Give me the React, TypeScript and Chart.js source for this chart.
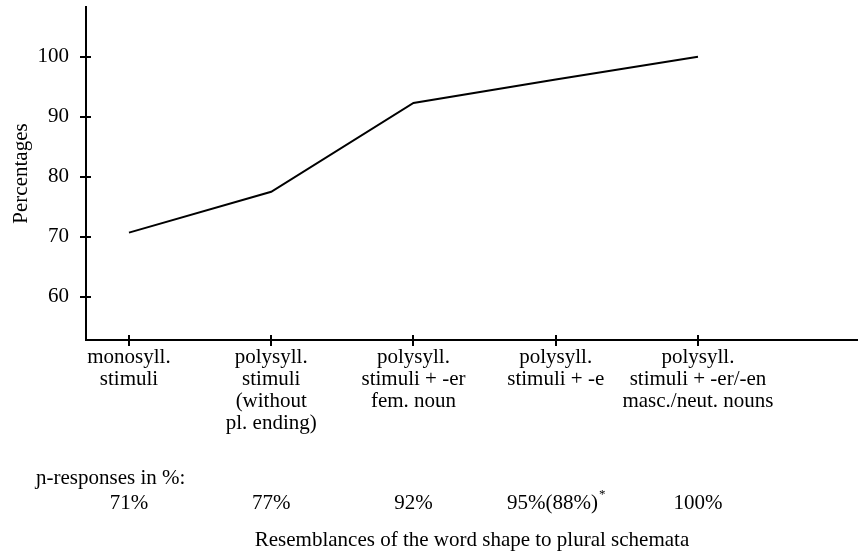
import React, { useEffect, useRef } from "react";
import { Chart, registerables } from "chart.js";

Chart.register(...registerables);

const CATEGORY_LABELS: string[][] = [
  ["monosyll.", "stimuli"],
  ["polysyll.", "stimuli", "(without", "pl. ending)"],
  ["polysyll.", "stimuli + -er", "fem. noun"],
  ["polysyll.", "stimuli + -e"],
  ["polysyll.", "stimuli + -er/-en", "masc./neut. nouns"],
];
const CATEGORY_POS = [1, 2, 3, 4, 5];
const PERCENT_VALUES = [70.7, 77.5, 92.3, 96.2, 100];
const RESPONSE_LABELS = ["71%", "77%", "92%", "95%(88%)", "100%"];
const RESPONSE_NOTES = ["", "", "", "*", ""];
const Y_TICKS = [60, 70, 80, 90, 100];
const Y_TITLE = "Percentages";
const X_TITLE = "Resemblances of the word shape to plural schemata";
const ROW_LABEL = "ɲ-responses in %:";

const FONT = "'Liberation Serif', 'Times New Roman', serif";

export default function App() {
  const ref = useRef<HTMLCanvasElement>(null);

  useEffect(() => {
    if (!ref.current) return;
    const extras = {
      id: "extras",
      afterDraw(chart: any) {
        const ctx = chart.ctx as CanvasRenderingContext2D;
        const xs = chart.scales.x;
        const ys = chart.scales.y;
        ctx.save();
        ctx.strokeStyle = "#000";
        ctx.lineWidth = 2;
        ctx.beginPath();
        CATEGORY_POS.forEach((v) => {
          const px = Math.round(xs.getPixelForValue(v));
          ctx.moveTo(px, ys.bottom);
          ctx.lineTo(px, ys.bottom - 5);
        });
        Y_TICKS.forEach((v) => {
          const py = Math.round(ys.getPixelForValue(v));
          ctx.moveTo(xs.left, py);
          ctx.lineTo(xs.left + 5, py);
        });
        ctx.stroke();

        ctx.fillStyle = "#000";
        ctx.textBaseline = "middle";
        ctx.textAlign = "left";
        ctx.font = `21px ${FONT}`;
        ctx.fillText(ROW_LABEL, 36, 478);
        RESPONSE_LABELS.forEach((t, i) => {
          const px = xs.getPixelForValue(CATEGORY_POS[i]);
          const note = RESPONSE_NOTES[i];
          ctx.font = `21px ${FONT}`;
          const w = ctx.measureText(t).width;
          ctx.font = `13px ${FONT}`;
          const nw = note ? ctx.measureText(note).width : 0;
          const start = px - (w + nw) / 2;
          ctx.font = `21px ${FONT}`;
          ctx.fillText(t, start, 503);
          if (note) {
            ctx.font = `13px ${FONT}`;
            ctx.fillText(note, start + w + 1, 495);
          }
        });
        ctx.restore();
      },
    };

    const chart = new Chart(ref.current, {
      type: "line",
      data: {
        datasets: [
          {
            data: CATEGORY_POS.map((x, i) => ({ x, y: PERCENT_VALUES[i] })),
            borderColor: "#000",
            borderWidth: 2,
            pointRadius: 0,
            tension: 0,
            fill: false,
            clip: false as any,
          },
        ],
      },
      options: {
        responsive: false,
        animation: false,
        devicePixelRatio: 1,
        layout: { padding: { top: 7, left: 0, right: 0, bottom: 0 } },
        plugins: { legend: { display: false }, tooltip: { enabled: false } },
        scales: {
          x: {
            type: "linear",
            min: 0.698,
            max: 6.125,
            afterBuildTicks: (s: any) => {
              s.ticks = CATEGORY_POS.map((v) => ({ value: v }));
            },
            afterFit: (s: any) => {
              s.height = 212;
              s.paddingLeft = 0;
              s.paddingRight = 0;
            },
            ticks: {
              autoSkip: false,
              maxRotation: 0,
              minRotation: 0,
              color: "#000",
              font: { family: FONT, size: 21, lineHeight: 1.05 },
              padding: 0,
              callback: (v: any) => {
                const i = CATEGORY_POS.indexOf(Number(v));
                return i >= 0 ? CATEGORY_LABELS[i] : "";
              },
            },
            grid: {
              display: true,
              drawOnChartArea: false,
              drawTicks: true,
              tickLength: 6,
              color: "#000",
              lineWidth: 2,
            },
            border: { display: true, color: "#000", width: 2 },
            title: {
              display: true,
              text: X_TITLE,
              color: "#000",
              font: { family: FONT, size: 21, lineHeight: 1.1 },
              padding: { top: 0, bottom: 0 },
            },
          },
          y: {
            type: "linear",
            min: 52.8,
            max: 108.3,
            afterBuildTicks: (s: any) => {
              s.ticks = Y_TICKS.map((v) => ({ value: v }));
            },
            afterFit: (s: any) => {
              s.width = 86;
              s.paddingTop = 0;
              s.paddingBottom = 0;
            },
            ticks: {
              color: "#000",
              font: { family: FONT, size: 21 },
              padding: 11,
              callback: (v: any) => String(v),
            },
            grid: {
              display: true,
              drawOnChartArea: false,
              drawTicks: true,
              tickLength: 6,
              color: "#000",
              lineWidth: 2,
            },
            border: { display: true, color: "#000", width: 2 },
            title: {
              display: true,
              text: Y_TITLE,
              color: "#000",
              font: { family: FONT, size: 21, lineHeight: 1.2 },
              padding: { top: 9, bottom: 0 },
            },
          },
        },
      },
      plugins: [extras],
    } as any);

    return () => chart.destroy();
  }, []);

  return (
    <div style={{ position: "absolute", left: 0, top: 0, width: 858, height: 552, background: "#fff" }}>
      <canvas ref={ref} width={858} height={552} style={{ display: "block" }} />
    </div>
  );
}
